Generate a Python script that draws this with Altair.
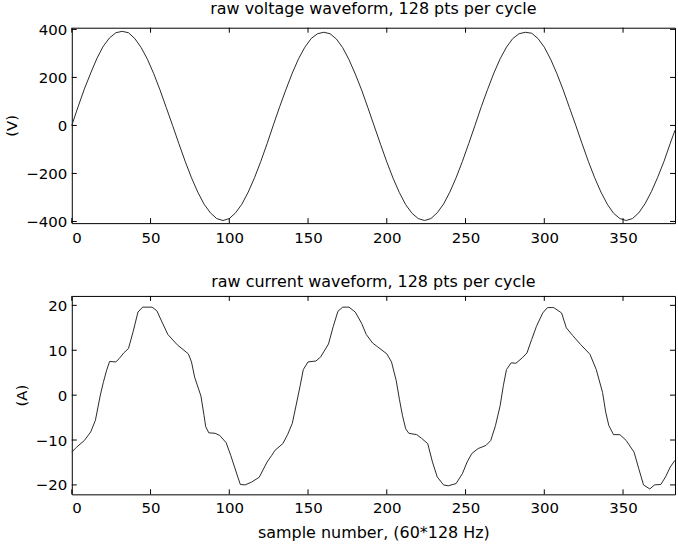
import altair as alt
import pandas as pd

# ---------------- data ----------------
v_samples = list(range(0, 384, 4)) + [383]
v_values = [
    0, 78, 152, 218, 280, 330, 365, 386, 392, 386, 362, 325, 276, 216, 148, 74,
    0, -76, -150, -218, -278, -328, -364, -388, -396, -388, -364, -328, -278, -218, -150, -76,
    2, 78, 150, 218, 278, 326, 362, 382, 388, 382, 360, 324, 274, 214, 148, 74,
    -2, -78, -152, -220, -280, -330, -366, -388, -396, -388, -364, -328, -278, -218, -150, -76,
    0, 78, 150, 218, 278, 326, 362, 382, 388, 384, 362, 326, 276, 216, 148, 74,
    0, -76, -150, -218, -278, -328, -366, -388, -396, -388, -364, -326, -276, -216, -150, -74,
    -20,
]

i_samples = [
    0, 3, 8, 12, 15, 18, 20, 22, 24, 28, 30, 33, 36, 39, 42, 45, 51, 54, 57, 61,
    67, 74, 76, 78, 82, 84, 85, 87, 91, 94, 98, 101, 105, 107, 110, 114, 119, 124, 127,
    129, 134, 137, 140, 143, 145, 147, 150, 155, 158, 163, 166, 169, 172, 176, 180, 184,
    187, 191, 194, 200, 203, 206, 208, 210, 212, 214, 219, 222, 226, 229, 232, 236, 239,
    244, 248, 251, 254,
    258, 263, 266, 269, 272, 274, 276, 279, 282, 286, 289, 292, 295, 299, 302, 306, 311,
    314, 318, 323, 329, 333, 337, 339, 341, 344, 348, 352, 357, 360, 363, 367, 370, 374,
    377, 380, 383,
]
i_values = [
    -12.7, -11.6, -10.1, -8.2, -5.6, -0.2, 2.8, 5.4, 7.5, 7.4, 8.1, 9.4, 10.4, 14.2, 18.5,
    19.6, 19.6, 18.8, 16.5, 13.5, 11.2, 9.2, 7.4, 4.0, -0.2, -4.6, -7.0, -8.4, -8.5, -9.0,
    -10.6, -13.5, -17.8, -19.9, -20.0, -19.4, -18.3, -14.9, -13.4,
    -12.3, -10.8, -8.8, -6.3, -1.3, 2.1, 5.7, 7.4, 7.6, 8.5, 11.4, 15.3, 18.7, 19.6, 19.6,
    18.5, 16.0, 13.5, 11.6, 10.8, 9.2, 7.4, 3.2, -0.9, -4.6, -7.5, -8.5, -8.8, -9.6, -10.8,
    -14.9, -18.2, -20.0, -20.2, -19.7, -17.5, -14.9, -13.0,
    -11.9, -11.2, -10.1, -6.8, -2.3, 2.1, 5.7, 7.2, 7.1, 8.3, 9.4, 12.4, 15.3, 18.3, 19.5,
    19.5, 18.3, 15.0, 13.3, 11.3, 9.1, 5.7, 0.6, -3.8, -6.8, -8.8, -8.8, -10.1, -12.7,
    -16.4, -20.0, -20.9, -20.0, -19.9, -18.2, -16.0, -14.5,
]

x_ticks = [0, 50, 100, 150, 200, 250, 300, 350]
v_ticks = [-400, -200, 0, 200, 400]
i_ticks = [-20, -10, 0, 10, 20]

title_v = "raw voltage waveform, 128 pts per cycle"
title_i = "raw current waveform, 128 pts per cycle"
ylabel_v = "(V)"
ylabel_i = "(A)"
xlabel = "sample number, (60*128 Hz)"

# ---------------- styling ----------------
FONT = "DejaVu Sans"
FS = 15
TFS = 16
W = 605
H_TOP = 196
H_BOT = 199
TICK = 5

x_dom = [0, 383]
v_dom = [-407, 407]
i_dom = [-22.1, 22.1]

v_df = pd.DataFrame({"n": v_samples, "val": v_values})
i_df = pd.DataFrame({"n": i_samples, "val": i_values})
xt_df = pd.DataFrame({"t": x_ticks})


def panel(df, y_dom, y_ticks, y_title, title, h, x_title):
    xs = alt.Scale(domain=x_dom, nice=False, zero=False)
    ys = alt.Scale(domain=y_dom, nice=False, zero=False)
    if x_title:
        xa = alt.Axis(values=x_ticks, title=x_title, grid=False, domain=False,
                      ticks=False, labelPadding=6, titlePadding=9, titleFontSize=TFS)
    else:
        xa = alt.Axis(values=x_ticks, title="", grid=False, domain=False,
                      ticks=False, labelPadding=7, titlePadding=0)
    ya = alt.Axis(values=y_ticks, title=y_title, grid=False, domain=False,
                  ticks=False, labelPadding=5, titlePadding=6)
    line = alt.Chart(df).mark_line(color="#2a2a2a", strokeWidth=1).encode(
        x=alt.X("n:Q", scale=xs, axis=xa, title=x_title if x_title else ""),
        y=alt.Y("val:Q", scale=ys, axis=ya, title=y_title),
    )
    yt_df = pd.DataFrame({"t": y_ticks})
    bottom = alt.Chart(xt_df).mark_rule(color="black").encode(
        x=alt.X("t:Q", scale=xs, axis=xa, title=x_title if x_title else ""),
        y=alt.value(h), y2=alt.value(h - TICK))
    top = alt.Chart(xt_df).mark_rule(color="black").encode(
        x=alt.X("t:Q", scale=xs, axis=xa, title=x_title if x_title else ""),
        y=alt.value(0), y2=alt.value(TICK))
    left = alt.Chart(yt_df).mark_rule(color="black").encode(
        y=alt.Y("t:Q", scale=ys, axis=ya, title=y_title),
        x=alt.value(0), x2=alt.value(TICK))
    right = alt.Chart(yt_df).mark_rule(color="black").encode(
        y=alt.Y("t:Q", scale=ys, axis=ya, title=y_title),
        x=alt.value(W), x2=alt.value(W - TICK))
    return alt.layer(line, bottom, top, left, right).properties(
        width=W, height=h,
        title=alt.TitleParams(title, fontSize=TFS, fontWeight="normal", font=FONT,
                              anchor="middle", offset=5, color="black"),
    )


top_panel = panel(v_df, v_dom, v_ticks, ylabel_v, title_v, H_TOP, None)
bot_panel = panel(i_df, i_dom, i_ticks, ylabel_i, title_i, H_BOT, xlabel)

chart = alt.vconcat(top_panel, bot_panel, spacing=28).properties(
    padding={"left": 4, "top": 0, "right": 0, "bottom": 0},
    background="white",
).configure_view(
    stroke="black", strokeWidth=1
).configure_axis(
    labelFont=FONT, labelFontSize=FS, labelColor="black",
    titleFont=FONT, titleFontSize=FS, titleFontWeight="normal", titleColor="black",
)

chart.save("out.html", embed_options={"renderer": "svg", "actions": False})
